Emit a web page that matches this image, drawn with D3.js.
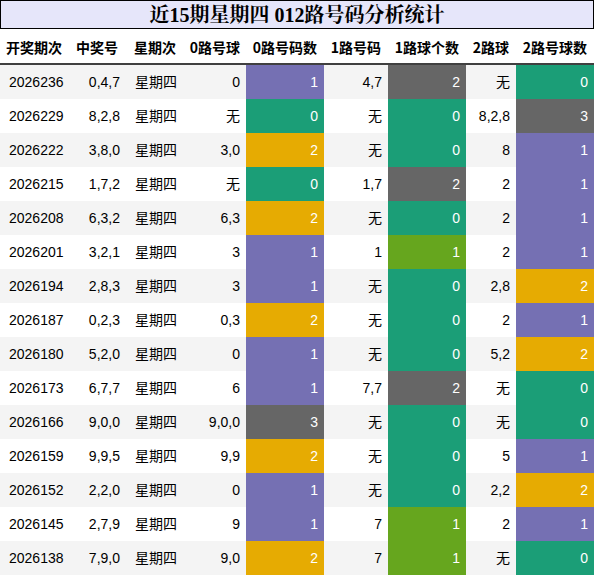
<!DOCTYPE html>
<html><head><meta charset="utf-8">
<script src="https://cdn.jsdelivr.net/npm/d3@7"></script>
<style>body{margin:0;background:#fff}</style>
</head><body><svg id="chart"></svg>
<script>
var headers = ['开奖期次','中奖号','星期次','0路号球','0路号码数','1路号码','1路球个数','2路球','2路号球数'];
var issues = ['2026236','2026229','2026222','2026215','2026208','2026201','2026194','2026187','2026180','2026173','2026166','2026159','2026152','2026145','2026138'];
var numbers = ['0,4,7','8,2,8','3,8,0','1,7,2','6,3,2','3,2,1','2,8,3','0,2,3','5,2,0','6,7,7','9,0,0','9,9,5','2,2,0','2,7,9','7,9,0'];
var road0 = ['0','无','3,0','无','6,3','3','3','0,3','0','6','9,0,0','9,9','0','9','9,0'];
var road0Count = [1,0,2,0,2,1,1,2,1,1,3,2,1,1,2];
var road1 = ['4,7','无','无','1,7','无','1','无','无','无','7,7','无','无','无','7','7'];
var road1Count = [2,0,0,2,0,1,0,0,0,2,0,0,0,1,1];
var road2 = ['无','8,2,8','8','2','2','2','2,8','2','5,2','无','无','5','2,2','2','无'];
var road2Count = [0,3,1,1,1,1,2,1,2,0,0,1,2,1,0];

var colors0 = {0:'#1b9e77',1:'#7570b3',2:'#e6ab02',3:'#666666'};
var colors1 = {0:'#1b9e77',1:'#66a61e',2:'#666666'};

var W = 594, H = 576, titleH = 29, headH = 35, rowH = 34;
var edges = [0,68,126,184,246,324,388,466,516,594];
var aligns = ['left','right','left','right','right','right','right','right','right'];

var svg = d3.select('#chart').attr('width', W).attr('height', H)
    .style('font-family', '"Liberation Sans", Arial, sans-serif');

svg.append('rect').attr('x',0.5).attr('y',0.5).attr('width',W-1).attr('height',titleH-1)
    .attr('fill','#e6e6fa').attr('stroke','#000');
svg.append('text').attr('x',W/2).attr('y',22).attr('text-anchor','middle')
    .style('font-family','"Liberation Serif","Noto Serif CJK SC","Noto Sans CJK SC",serif')
    .style('font-weight','bold').style('font-size','20px').text('近15期星期四 012路号码分析统计');

headers.forEach(function(h,i){
    svg.append('text').attr('x',(edges[i]+edges[i+1])/2).attr('y',titleH+24)
        .attr('text-anchor','middle').style('font-weight','bold').style('font-size','14px')
        .style('font-family','"Noto Sans CJK SC", sans-serif').text(h);
});
svg.append('line').attr('x1',0).attr('x2',W).attr('y1',titleH+headH).attr('y2',titleH+headH)
    .attr('stroke','#000').attr('stroke-width',1.5);

var y = d3.scaleBand().domain(d3.range(issues.length)).range([titleH+headH+1, titleH+headH+1+rowH*issues.length]);

var rows = svg.selectAll('.row').data(issues).enter().append('g').attr('class','row')
    .attr('transform', function(d,i){ return 'translate(0,' + y(i) + ')'; });

rows.append('rect').attr('width',W).attr('height',rowH)
    .attr('fill', function(d,i){ return i % 2 === 0 ? '#f4f4f4' : '#ffffff'; });

rows.each(function(d,i){
    var g = d3.select(this);
    var cells = [issues[i], numbers[i], '星期四', road0[i], road0Count[i], road1[i], road1Count[i], road2[i], road2Count[i]];
    var fills = {4: colors0[road0Count[i]], 6: colors1[road1Count[i]], 8: colors0[road2Count[i]]};
    cells.forEach(function(c,j){
        if (fills[j]) {
            g.append('rect').attr('x',edges[j]).attr('width',edges[j+1]-edges[j]).attr('height',rowH).attr('fill',fills[j]);
        }
        var x = aligns[j] === 'left' ? edges[j] + 9 : edges[j+1] - 6;
        g.append('text').attr('x', x).attr('y', 22)
            .attr('text-anchor', aligns[j] === 'left' ? 'start' : 'end')
            .style('font-size','14px')
            .style('font-family', /[\u4e00-\u9fff]/.test(String(c)) ? '"Noto Sans CJK SC", sans-serif' : '"Liberation Sans", Arial, sans-serif')
            .attr('fill', fills[j] ? '#ffffff' : '#000000')
            .text(c);
    });
});
</script>
</body></html>
